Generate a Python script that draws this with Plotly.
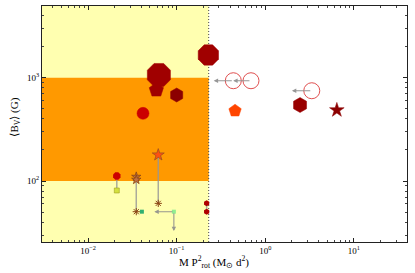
import numpy as np
import plotly.graph_objects as go

# ---------------- data ----------------
X_RANGE_LOG = [-2.52, 1.60]
Y_RANGE_LOG = [1.41, 3.694]
B_LOW, B_HIGH = 100, 1000
MP2_LIMIT = 0.23

# filled main markers
main_x = [0.228, 0.063, 0.059, 0.100, 0.0417, 0.456, 2.47, 6.43]
main_y = [1660, 1062, 760, 680, 452, 479, 544, 486]
main_sym = ["octagon", "octagon", "pentagon", "hexagon", "circle", "pentagon", "hexagon", "star"]
main_size = [22, 25, 15, 14, 12, 13, 15, 11]
main_col = ["#a00000", "#a00000", "#a00000", "#8c0000", "#cc0000", "#ff4500", "#990000", "#8c0000"]

# open circles (upper limits with arrows to the left)
open_x = [0.436, 0.69, 3.35]
open_y = [935, 935, 748]
open_arrow_to = [0.262, 0.435, 2.0]

# connected pairs (top -> bottom)
pairA_x = [0.0211, 0.0211]; pairA_y = [112, 81]
pairB_x = [0.035, 0.035, 0.035]; pairB_y = [110, 103, 50.5]
pairB_extra_x = [0.0405]; pairB_extra_y = [50.5]
pairC_x = [0.062, 0.062]; pairC_y = [179, 60.8]
pointD_x = [0.093]; pointD_y = [50.5]
D_left_to = 0.056; D_down_to = 32.8
pairE_x = [0.218, 0.218]; pairE_y = [61, 50.5]

x_tickvals = [0.01, 0.1, 1, 10]
x_ticktext = ["10<sup>−2</sup>", "10<sup>−1</sup>", "10<sup>0</sup>", "10<sup>1</sup>"]
y_tickvals = [100, 1000]
y_ticktext = ["10<sup>2</sup>", "10<sup>3</sup>"]

GRAY = "rgba(150,150,150,0.8)"
FONT = "Liberation Serif"
BROWN = "#8b4513"

fig = go.Figure()

xmin, xmax = 10 ** X_RANGE_LOG[0], 10 ** X_RANGE_LOG[1]
ymin, ymax = 10 ** Y_RANGE_LOG[0], 10 ** Y_RANGE_LOG[1]

# background regions
fig.add_trace(go.Scatter(x=[xmin, MP2_LIMIT, MP2_LIMIT, xmin, xmin], y=[ymin, ymin, ymax, ymax, ymin],
                         fill="toself", fillcolor="#ffffb0", line=dict(width=0), mode="lines",
                         hoverinfo="skip", showlegend=False))
fig.add_trace(go.Scatter(x=[xmin, MP2_LIMIT, MP2_LIMIT, xmin, xmin], y=[B_LOW, B_LOW, B_HIGH, B_HIGH, B_LOW],
                         fill="toself", fillcolor="#ff9900", line=dict(width=0), mode="lines",
                         hoverinfo="skip", showlegend=False))
fig.add_trace(go.Scatter(x=[MP2_LIMIT, MP2_LIMIT], y=[ymin, ymax], mode="lines",
                         line=dict(color="#444444", width=1, dash="1px,2px"), showlegend=False))

# connecting lines
for xs, ys in [(pairA_x, pairA_y), ([pairB_x[0], pairB_x[2]], [pairB_y[0], pairB_y[2]]),
               (pairC_x, pairC_y), (pairE_x, pairE_y)]:
    fig.add_trace(go.Scatter(x=xs, y=ys, mode="lines", line=dict(color=GRAY, width=1.5), showlegend=False))

# main markers
fig.add_trace(go.Scatter(x=main_x, y=main_y, mode="markers",
                         marker=dict(symbol=main_sym, size=main_size, color=main_col, opacity=1,
                                     line=dict(width=0.5, color=main_col)), showlegend=False))

# open circles
fig.add_trace(go.Scatter(x=open_x, y=open_y, mode="markers",
                         marker=dict(symbol="circle-open", size=16, color="#e05050", opacity=1, line=dict(width=1)),
                         showlegend=False))

# small markers
fig.add_trace(go.Scatter(x=[pairA_x[0]], y=[pairA_y[0]], mode="markers",
                         marker=dict(symbol="octagon", size=8, color="#cc0000", opacity=1), showlegend=False))
fig.add_trace(go.Scatter(x=[pairA_x[1]], y=[pairA_y[1]], mode="markers",
                         marker=dict(symbol="square", size=5, color="#d4e040", opacity=1,
                                     line=dict(width=0.6, color="#a0a020")), showlegend=False))
fig.add_trace(go.Scatter(x=pairB_x[:2], y=pairB_y[:2], mode="markers",
                         marker=dict(symbol="star", size=7, color="#c07040", opacity=1,
                                     line=dict(width=0.8, color=BROWN)),
                         showlegend=False))
fig.add_trace(go.Scatter(x=[pairB_x[2], pairC_x[1]], y=[pairB_y[2], pairC_y[1]], mode="markers",
                         marker=dict(symbol="asterisk-open", size=6, opacity=1, color=BROWN,
                                     line=dict(width=1, color=BROWN)),
                         showlegend=False))
fig.add_trace(go.Scatter(x=pairB_extra_x, y=pairB_extra_y, mode="markers",
                         marker=dict(symbol="square", size=4, color="#30b070", opacity=1), showlegend=False))
fig.add_trace(go.Scatter(x=[pairC_x[0]], y=[pairC_y[0]], mode="markers",
                         marker=dict(symbol="star", size=9, color="#ff5010", opacity=1,
                                     line=dict(width=0.8, color="#a05020")),
                         showlegend=False))
fig.add_trace(go.Scatter(x=pointD_x, y=pointD_y, mode="markers",
                         marker=dict(symbol="square", size=4, color="#90ee90", opacity=1), showlegend=False))
fig.add_trace(go.Scatter(x=pairE_x, y=pairE_y, mode="markers",
                         marker=dict(symbol="hexagon", size=6, color="#b00000", opacity=1), showlegend=False))

# arrows
def arrow(x0, y0, x1, y1):
    fig.add_annotation(x=np.log10(x1), y=np.log10(y1), ax=np.log10(x0), ay=np.log10(y0),
                       xref="x", yref="y", axref="x", ayref="y", text="", showarrow=True,
                       arrowhead=2, arrowsize=0.8, arrowwidth=1.1, arrowcolor="rgba(140,140,140,0.9)")

for xo, yo, xt in zip(open_x, open_y, open_arrow_to):
    arrow(xo, yo, xt, yo)
arrow(pointD_x[0], pointD_y[0], D_left_to, pointD_y[0])
arrow(pointD_x[0], pointD_y[0], pointD_x[0], D_down_to)

def minor_vals(lo, hi):
    vals = []
    for d in range(int(np.floor(lo)), int(np.ceil(hi)) + 1):
        for m in range(2, 10):
            v = m * 10 ** d
            if 10 ** lo <= v <= 10 ** hi:
                vals.append(v)
    return vals

# axis titles as annotations (fixed positions)
fig.add_annotation(text="M P<sup>2</sup><sub>rot</sub> (M<sub>⊙</sub> d<sup>2</sup>)",
                   xref="paper", yref="paper", x=0.47, y=-0.085, xanchor="center", yanchor="middle",
                   showarrow=False, font=dict(size=11, family=FONT, color="black"))
fig.add_annotation(text="⟨B<sub>V</sub>⟩ (G)", textangle=-90,
                   xref="paper", yref="paper", x=-0.075, y=0.53, xanchor="center", yanchor="middle",
                   showarrow=False, font=dict(size=11, family=FONT, color="black"))

fig.update_layout(
    width=415, height=273,
    margin=dict(l=42, r=8, t=6, b=31, autoexpand=False),
    paper_bgcolor="white", plot_bgcolor="white",
    font=dict(family=FONT, color="black", size=8),
    xaxis=dict(type="log", range=X_RANGE_LOG, showgrid=False, zeroline=False, automargin=False,
               showline=True, mirror="ticks", linecolor="#222", linewidth=1,
               ticks="inside", ticklen=4, tickcolor="#222",
               tickvals=x_tickvals, ticktext=x_ticktext, tickfont=dict(size=9, family=FONT),
               minor=dict(tickvals=minor_vals(*X_RANGE_LOG), ticks="inside", ticklen=2, tickcolor="#444")),
    yaxis=dict(type="log", range=Y_RANGE_LOG, showgrid=False, zeroline=False, automargin=False,
               showline=True, mirror="ticks", linecolor="#222", linewidth=1,
               ticks="inside", ticklen=4, tickcolor="#222",
               tickvals=y_tickvals, ticktext=y_ticktext, tickfont=dict(size=9, family=FONT),
               minor=dict(tickvals=minor_vals(*Y_RANGE_LOG), ticks="inside", ticklen=2, tickcolor="#444")),
)

fig.write_html("out.html", config={"displayModeBar": False},
               post_script="document.body.style.margin='0';document.body.style.padding='0';")
